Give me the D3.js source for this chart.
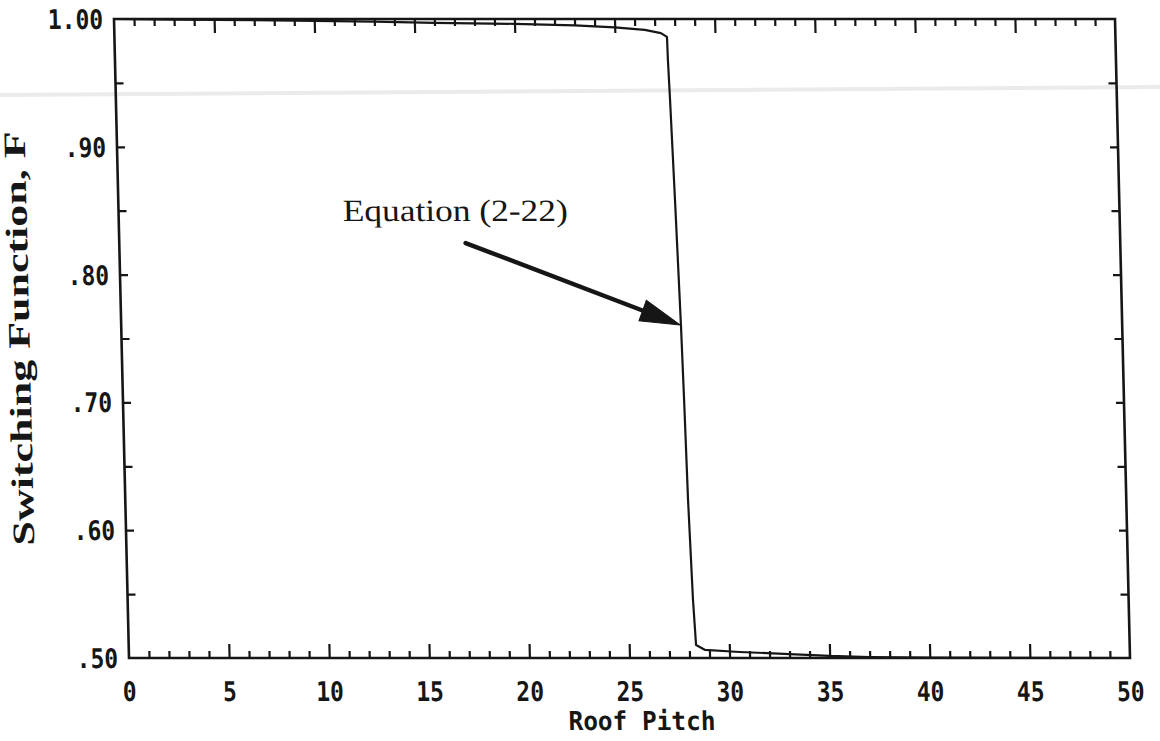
<!DOCTYPE html>
<html>
<head>
<meta charset="utf-8">
<script src="https://cdn.jsdelivr.net/npm/d3@7"></script>
<style>
  html, body { margin: 0; padding: 0; background: #fff; }
  svg { display: block; }
</style>
</head>
<body>
<svg id="chart" width="1160" height="741"></svg>
<script>
// Switching function F versus roof pitch (Equation 2-22)
const pitch   = [0, 3, 8, 13, 16, 20, 23, 25, 26.5, 27.3, 27.6, 27.62, 27.68, 27.81, 27.96, 28.03, 28.11, 28.24, 28.34, 28.79, 30.5, 33.0, 35.0, 37.0, 40.0, 50];
const switchF = [1.0, 0.9995, 0.999, 0.998, 0.997, 0.9962, 0.995, 0.9935, 0.9915, 0.989, 0.986, 0.968, 0.9366, 0.8584, 0.7606, 0.7019, 0.6236, 0.5454, 0.5102, 0.5063, 0.5047, 0.5031, 0.5016, 0.5008, 0.5003, 0.5];

const xTickValues = [0, 5, 10, 15, 20, 25, 30, 35, 40, 45, 50];
const xTickLabels = ["0", "5", "10", "15", "20", "25", "30", "35", "40", "45", "50"];
const yTickValues = [0.5, 0.6, 0.7, 0.8, 0.9, 1.0];
const yTickLabels = [".50", ".60", ".70", ".80", ".90", "1.00"];

const xTitle = "Roof Pitch";
const yTitle = "Switching Function, F";
const noteText = "Equation (2-22)";
const noteTail = [17.3, 0.8247];   // arrow tail (pitch, F)
const noteTip  = [27.93, 0.7606];  // arrow tip on the curve
const noteAt   = [11.2, 0.842];    // label baseline start

const W = 1001, H = 639;
const svg = d3.select("#chart");

// faint scanner streak across the sheet
svg.append("line")
  .attr("x1", 0).attr("y1", 95).attr("x2", 1160).attr("y2", 87)
  .attr("stroke", "#ebebeb").attr("stroke-width", 4);

// the printed sheet sits with a slight lean
const lean = Math.atan(15 / H) * 180 / Math.PI;
const g = svg.append("g").attr("transform", `translate(129,658) skewX(${lean})`);

const x = d3.scaleLinear().domain([0, 50]).range([0, W]);
const y = d3.scaleLinear().domain([0.5, 1.0]).range([0, -H]);

const ink = "#161616";
const monoFont = "'DejaVu Sans Mono', 'Liberation Mono', monospace";
const serifFont = "'Liberation Serif', 'DejaVu Serif', serif";

// inward ticks: every unit of pitch, longer on multiples of 5
const xMinor = d3.range(1, 50);
const tickLen = v => (v % 5 === 0 ? 14 : 7);

const bottomAxis = d3.axisTop(x).tickValues(xMinor).tickFormat("").tickSizeOuter(0);
const gb = g.append("g").call(bottomAxis);
gb.selectAll(".tick line").attr("y2", d => -tickLen(d));

const topAxis = d3.axisBottom(x).tickValues(xMinor).tickFormat("").tickSizeOuter(0);
const gt = g.append("g").attr("transform", `translate(0,${-H})`).call(topAxis);
gt.selectAll(".tick line").attr("y2", d => tickLen(d));

const yMinor = d3.range(0.55, 0.999, 0.05);
const gl = g.append("g").call(d3.axisRight(y).tickValues(yMinor).tickFormat("").tickSize(8).tickSizeOuter(0));
const gr = g.append("g").attr("transform", `translate(${W},0)`)
  .call(d3.axisLeft(y).tickValues(yMinor).tickFormat("").tickSize(8).tickSizeOuter(0));

[gb, gt, gl, gr].forEach(a => {
  a.select(".domain").remove();
  a.selectAll(".tick line").attr("stroke", ink).attr("stroke-width", 2.2);
});

// frame
g.append("rect")
  .attr("x", 0).attr("y", -H).attr("width", W).attr("height", H)
  .attr("fill", "none").attr("stroke", ink).attr("stroke-width", 2.6);

// tick labels: tall, narrow bold monospace
const charW = 13.8;
g.append("g").selectAll("text").data(xTickValues).join("text")
  .attr("x", d => x(d)).attr("y", 43)
  .attr("text-anchor", "middle")
  .attr("font-family", monoFont).attr("font-weight", "bold").attr("font-size", 27)
  .attr("textLength", (d, i) => xTickLabels[i].length * charW).attr("lengthAdjust", "spacingAndGlyphs")
  .attr("fill", ink)
  .text((d, i) => xTickLabels[i]);

g.append("g").selectAll("text").data(yTickValues).join("text")
  .attr("x", -11).attr("y", d => y(d) + 10)
  .attr("text-anchor", "end")
  .attr("font-family", monoFont).attr("font-weight", "bold").attr("font-size", 27)
  .attr("textLength", (d, i) => yTickLabels[i].length * charW).attr("lengthAdjust", "spacingAndGlyphs")
  .attr("fill", ink)
  .text((d, i) => yTickLabels[i]);

// axis titles
g.append("text")
  .attr("x", W / 2 + 11).attr("y", 72)
  .attr("text-anchor", "middle")
  .attr("font-family", monoFont).attr("font-weight", "bold").attr("font-size", 26)
  .attr("textLength", 147).attr("lengthAdjust", "spacingAndGlyphs")
  .attr("fill", ink)
  .text(xTitle);

g.append("text")
  .attr("transform", `translate(-92,${-H / 2}) rotate(-90)`)
  .attr("text-anchor", "middle")
  .attr("font-family", serifFont).attr("font-weight", "bold").attr("font-size", 31)
  .attr("textLength", 414).attr("lengthAdjust", "spacingAndGlyphs")
  .attr("fill", ink)
  .text(yTitle);

// the switching curve
const line = d3.line().x(d => x(d[0])).y(d => y(d[1]));
g.append("path")
  .datum(pitch.map((p, i) => [p, switchF[i]]))
  .attr("d", line)
  .attr("fill", "none").attr("stroke", ink).attr("stroke-width", 2.2)
  .attr("stroke-linejoin", "round");

// annotation
g.append("text")
  .attr("x", x(noteAt[0])).attr("y", y(noteAt[1]))
  .attr("font-family", serifFont).attr("font-size", 31)
  .attr("textLength", 225).attr("lengthAdjust", "spacingAndGlyphs")
  .attr("fill", ink)
  .text(noteText);

const x0 = x(noteTail[0]), y0 = y(noteTail[1]);
const x1 = x(noteTip[0]), y1 = y(noteTip[1]);
const ang = Math.atan2(y1 - y0, x1 - x0);
const headLen = 40, headHalf = 11;
const bx = x1 - headLen * Math.cos(ang), by = y1 - headLen * Math.sin(ang);
g.append("line")
  .attr("x1", x0).attr("y1", y0).attr("x2", bx + 4 * Math.cos(ang)).attr("y2", by + 4 * Math.sin(ang))
  .attr("stroke", ink).attr("stroke-width", 4.5).attr("stroke-linecap", "round");
g.append("path")
  .attr("d", d3.line()([
    [x1, y1],
    [bx - headHalf * Math.sin(ang), by + headHalf * Math.cos(ang)],
    [bx + headHalf * Math.sin(ang), by - headHalf * Math.cos(ang)]
  ]) + "Z")
  .attr("fill", ink).attr("stroke", ink).attr("stroke-width", 1);
</script>
</body>
</html>
